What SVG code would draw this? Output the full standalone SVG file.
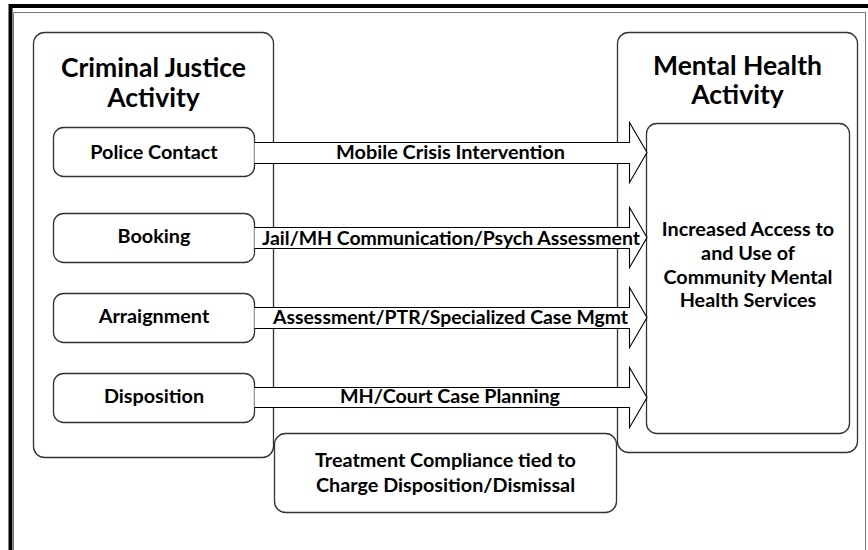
<svg xmlns="http://www.w3.org/2000/svg" width="868" height="550" viewBox="0 0 868 550">
<style>
.box{fill:#fff;stroke:#333;stroke-width:1.3}
.arrow{fill:#fff;stroke:#000;stroke-width:1.1}
text{font-family:Lato,"Open Sans","DejaVu Sans",sans-serif;font-weight:bold;fill:#000;text-anchor:middle}
.title{font-size:26.5px}
.lbl{font-size:19.8px}
.alb{font-size:19.5px}
</style>
<rect width="868" height="550" fill="#fff"/>
<g id="frame">
<path d="M10.5,550 V6 H868" fill="none" stroke="#000" stroke-width="4"/>
<path d="M13.5,550 V12.5 H865.5 V550" fill="none" stroke="#777" stroke-width="1"/>
</g>
<g id="criminal-justice">
<rect class="box" x="33.5" y="32.5" width="240" height="425" rx="11"/>
<text class="title" x="153.5" y="77">Criminal Justice</text>
<text class="title" x="153.5" y="107">Activity</text>
</g>
<g id="mental-health">
<rect class="box" x="617.5" y="32.5" width="240" height="420" rx="11"/>
<text class="title" x="737.5" y="75">Mental Health</text>
<text class="title" x="737.5" y="104">Activity</text>
</g>
<g id="police-contact">
<rect class="box" x="53.5" y="127.5" width="201" height="49" rx="10"/>
<text class="lbl" x="154" y="159">Police Contact</text>
</g>
<g id="booking">
<rect class="box" x="53.5" y="213.5" width="201" height="49" rx="10"/>
<text class="lbl" x="154" y="243">Booking</text>
</g>
<g id="arraignment">
<rect class="box" x="53.5" y="293.5" width="201" height="49" rx="10"/>
<text class="lbl" x="154" y="323">Arraignment</text>
</g>
<g id="disposition">
<rect class="box" x="53.5" y="373.5" width="201" height="49" rx="10"/>
<text class="lbl" x="154" y="403">Disposition</text>
</g>
<g id="outcome">
<rect class="box" x="646.5" y="123.5" width="203" height="310" rx="10"/>
<text class="lbl" x="748" y="236">Increased Access to</text>
<text class="lbl" x="748" y="260">and Use of</text>
<text class="lbl" x="748" y="284">Community Mental</text>
<text class="lbl" x="748" y="307">Health Services</text>
</g>
<g id="connectors">
<path class="arrow" d="M254.5,142.5 H629.5 V122.5 L647,152.5 L629.5,182.5 V163.5 H254.5"/>
<path class="arrow" d="M254.5,227.5 H629.5 V207.5 L647,237.5 L629.5,267.5 V248.5 H254.5"/>
<path class="arrow" d="M254.5,307.5 H629.5 V287.5 L647,317.5 L629.5,347.5 V328.5 H254.5"/>
<path class="arrow" d="M254.5,387.5 H629.5 V367.5 L647,397.5 L629.5,427.5 V407.5 H254.5"/>
<text class="alb" x="450.5" y="159" textLength="229" lengthAdjust="spacingAndGlyphs">Mobile Crisis Intervention</text>
<text class="alb" x="451" y="245" textLength="378" lengthAdjust="spacingAndGlyphs">Jail/MH Communication/Psych Assessment</text>
<text class="alb" x="450.5" y="324" textLength="355" lengthAdjust="spacingAndGlyphs">Assessment/PTR/Specialized Case Mgmt</text>
<text class="alb" x="450" y="403" textLength="220" lengthAdjust="spacingAndGlyphs">MH/Court Case Planning</text>
</g>
<g id="treatment-compliance">
<rect class="box" x="274.5" y="433.5" width="342" height="79" rx="11"/>
<text class="lbl" x="445.5" y="467">Treatment Compliance tied to</text>
<text class="lbl" x="445.5" y="492">Charge Disposition/Dismissal</text>
</g>
</svg>
